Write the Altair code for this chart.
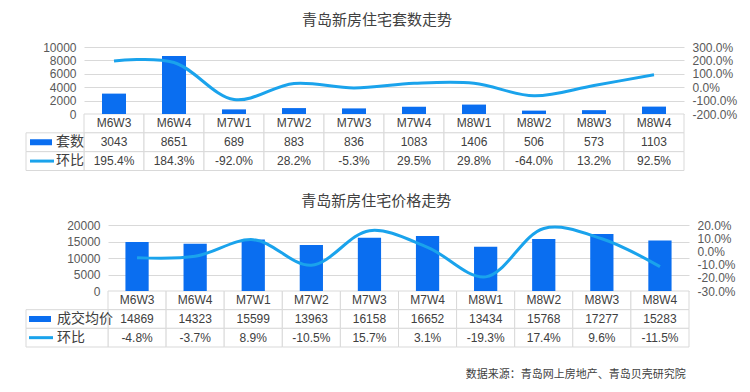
import altair as alt
import pandas as pd

cats = ["M6W3", "M6W4", "M7W1", "M7W2", "M7W3", "M7W4", "M8W1", "M8W2", "M8W3", "M8W4"]
units = [3043, 8651, 689, 883, 836, 1083, 1406, 506, 573, 1103]
units_mom = [195.4, 184.3, -92.0, 28.2, -5.3, 29.5, 29.8, -64.0, 13.2, 92.5]
prices = [14869, 14323, 15599, 13963, 16158, 16652, 13434, 15768, 17277, 15283]
prices_mom = [-4.8, -3.7, 8.9, -10.5, 15.7, 3.1, -19.3, 17.4, 9.6, -11.5]

units_ticks = [0, 2000, 4000, 6000, 8000, 10000]
units_mom_ticks = [-200, -100, 0, 100, 200, 300]
price_ticks = [0, 5000, 10000, 15000, 20000]
price_mom_ticks = [-30, -20, -10, 0, 10, 20]

BAR = "#0a6ef0"
LINE = "#1aa3ec"
GRID = "#d9d9d9"
TXT = "#404040"
AX = "#595959"
FONT = "Liberation Sans, Noto Sans CJK SC, sans-serif"
CJK = "Noto Sans CJK SC, sans-serif"


def section(title, bar_name, bar_vals, mom_vals, lticks, rticks, W, HP, H, LW,
            sym_x, txt_x, toff):
    rows = ["hdr", bar_name, "环比"]
    main = pd.DataFrame({"cat": cats, "value": bar_vals, "mom": mom_vals})
    tbl = []
    for i, c in enumerate(cats):
        tbl.append({"cat": c, "row": "hdr", "label": c})
        tbl.append({"cat": c, "row": bar_name, "label": f"{bar_vals[i]}"})
        tbl.append({"cat": c, "row": "环比", "label": f"{mom_vals[i]:.1f}%"})
    tbl = pd.DataFrame(tbl)
    leg = pd.DataFrame({"lg": ["L", "L"], "row": [bar_name, "环比"],
                        "label": [bar_name, "环比"]})

    xs = alt.Scale(type="band", domain=cats, range=[LW, LW + W], padding=0)
    ys_row = alt.Scale(type="band", domain=rows, range=[HP, H], padding=0)
    xl = alt.Scale(type="band", domain=["L"], range=[0, LW], padding=0)

    bars = alt.Chart(main).mark_bar(width=alt.RelativeBandSize(0.4), color=BAR).encode(
        x=alt.X("cat:N", scale=xs, axis=None),
        y=alt.Y("value:Q",
                scale=alt.Scale(domain=[lticks[0], lticks[-1]], range=[HP, 0], nice=False, zero=False),
                axis=alt.Axis(values=lticks, grid=True, gridColor=GRID, domain=False, ticks=False,
                              tickSize=0, labelPadding=8, title=None, labelFontSize=12,
                              labelColor=AX, labelFont=FONT, orient="left", format="d",
                              offset=-LW)),
    )
    line = alt.Chart(main).mark_line(interpolate="catmull-rom", color=LINE, strokeWidth=3).encode(
        x=alt.X("cat:N", scale=xs, axis=None, bandPosition=0.5),
        y=alt.Y("mom:Q",
                scale=alt.Scale(domain=[rticks[0], rticks[-1]], range=[HP, 0], nice=False, zero=False),
                axis=alt.Axis(values=rticks, grid=False, domain=False, ticks=False, tickSize=0,
                              labelPadding=8, title=None, labelFontSize=12, labelColor=AX,
                              labelFont=FONT, orient="right",
                              labelExpr="datum.value + '.0%'")),
    )
    cells = alt.Chart(tbl).mark_rect(fill="white", stroke=GRID, strokeWidth=1).encode(
        x=alt.X("cat:N", scale=xs, axis=None),
        y=alt.Y("row:N", scale=ys_row, axis=None),
    )
    texts = alt.Chart(tbl).mark_text(fontSize=12, color=TXT, font=FONT, baseline="middle").encode(
        x=alt.X("cat:N", scale=xs, axis=None, bandPosition=0.5),
        y=alt.Y("row:N", scale=ys_row, axis=None, bandPosition=0.5),
        text="label:N",
    )
    lcells = alt.Chart(leg).mark_rect(fill="white", stroke=GRID, strokeWidth=1).encode(
        x=alt.X("lg:N", scale=xl, axis=None),
        y=alt.Y("row:N", scale=ys_row, axis=None),
    )
    lbar = alt.Chart(leg[leg["row"] == bar_name]).mark_rule(
        color=BAR, strokeWidth=6, strokeCap="butt").encode(
        x=alt.value(sym_x[0]), x2=alt.value(sym_x[1]),
        y=alt.Y("row:N", scale=ys_row, axis=None, bandPosition=0.5),
    )
    lline = alt.Chart(leg[leg["row"] == "环比"]).mark_rule(
        color=LINE, strokeWidth=3, strokeCap="butt").encode(
        x=alt.value(sym_x[0]), x2=alt.value(sym_x[1] + 2),
        y=alt.Y("row:N", scale=ys_row, axis=None, bandPosition=0.5),
    )
    ltext = alt.Chart(leg).mark_text(fontSize=14, color=TXT, font=CJK, align="left",
                                      baseline="middle").encode(
        x=alt.value(txt_x),
        y=alt.Y("row:N", scale=ys_row, axis=None, bandPosition=0.5),
        text="label:N",
    )
    return alt.layer(cells, lcells, bars, line, texts, lbar, lline, ltext).resolve_scale(
        x="independent", y="independent"
    ).properties(
        width=LW + W, height=H,
        title=alt.TitleParams(title, anchor="middle", frame="bounds", fontSize=15,
                              font=CJK, color=TXT, fontWeight="normal", offset=toff, dx=-4),
    )


top = section("青岛新房住宅套数走势", "套数", units, units_mom, units_ticks, units_mom_ticks,
              600, 67, 123.5, 58, (4, 26), 30, 13)
bottom = section("青岛新房住宅价格走势", "成交均价", prices, prices_mom, price_ticks, price_mom_ticks,
                 581, 66, 122, 82, (3, 25), 31, 10)

chart = alt.vconcat(top, bottom, spacing=23).properties(
    padding={"left": 17, "top": 5, "right": 5, "bottom": 2},
    title=alt.TitleParams("数据来源：青岛网上房地产、青岛贝壳研究院", orient="bottom", anchor="end",
                          fontSize=11, font=CJK, color=TXT, fontWeight="normal", offset=21, dx=-51),
).configure_view(stroke=None)

chart.save("out.html", embed_options={"renderer": "svg", "actions": False})
